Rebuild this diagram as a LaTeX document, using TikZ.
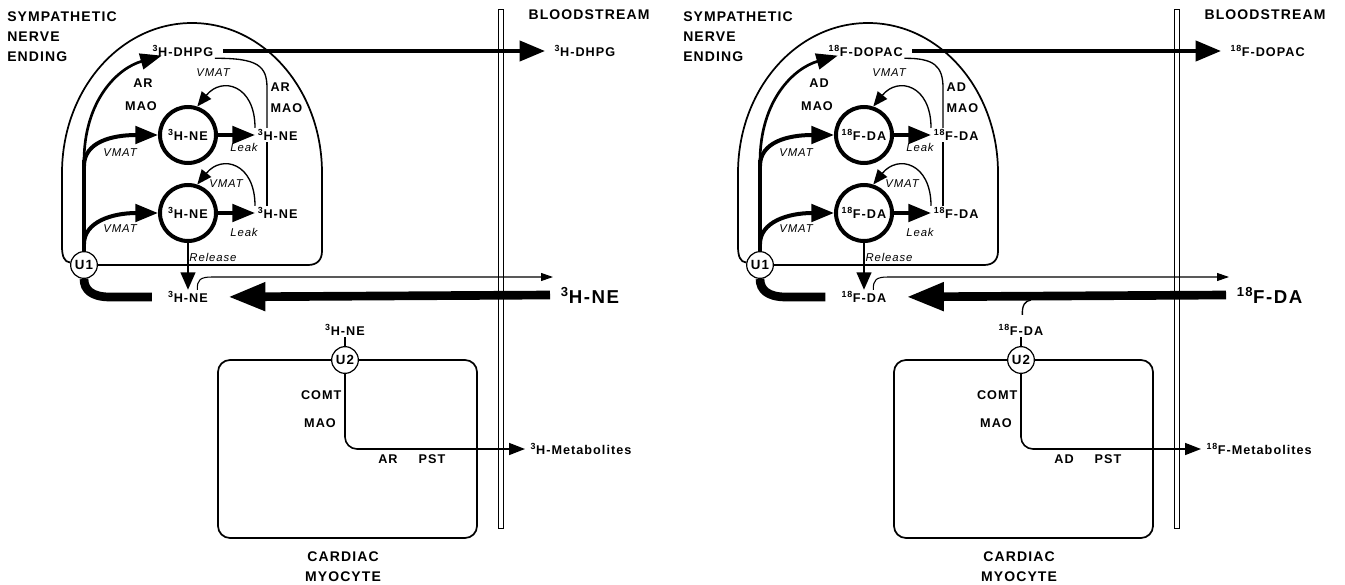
\documentclass[tikz,border=0pt]{standalone}
\usepackage{fontspec}
\setmainfont{Liberation Sans}[LetterSpace=8]
\usetikzlibrary{arrows.meta}

\begin{document}
\begin{tikzpicture}[x=0.75pt, y=-0.75pt,
    title/.style={font=\fontsize{10.5}{15}\selectfont\bfseries, align=center, inner sep=0pt},
    lbl/.style={font=\fontsize{9.5}{11}\selectfont\bfseries, inner sep=1pt},
    biglbl/.style={font=\fontsize{14}{16}\selectfont\bfseries, inner sep=0pt},
    tag/.style={font=\fontsize{8.5}{10}\selectfont\itshape, inner sep=1pt},
    vesicle/.style={circle, draw, line width=3pt, minimum size=42pt, inner sep=0pt,
        font=\fontsize{9.5}{11}\selectfont\bfseries},
    carrier/.style={circle, draw, fill=white, line width=0.9pt, minimum size=20pt,
        inner sep=0pt, font=\fontsize{10}{11}\selectfont\bfseries},
    wall/.style={line width=1.3pt},
    membrane/.style={line width=0.7pt},
    route/.style={line width=1pt},
    uptake/.style={line width=6.5pt, -{Triangle[length=28pt, width=20pt]}},
    efflux/.style={line width=3pt, -{Triangle[length=19pt, width=15pt]}},
    pump/.style={line width=3pt, -{Triangle[length=17pt, width=13pt]}},
    deam/.style={line width=2pt, -{Triangle[length=16pt, width=12pt]}},
    release/.style={line width=1.5pt, -{Triangle[length=13pt, width=11pt]}},
    recycle/.style={line width=1pt, -{Triangle[length=11pt, width=9pt]}},
    outflow/.style={line width=1.2pt, -{Triangle[length=12pt, width=9pt]}},
    spill/.style={line width=0.8pt, -{Triangle[length=9pt, width=6pt]}}
]
    \useasboundingbox (0,0) rectangle (1345,585);

    % Two panels: tritiated NE on the left, fluorinated DA on the right
    \foreach \shiftx/\side/\massno/\atom/\amine/\acid/\enzyme in
        {0/L/3/H/NE/DHPG/AR, 676/R/18/F/DA/DOPAC/AD}{
    \begin{scope}[shift={(\shiftx,0)}, name prefix=\side-]
        % membrane and compartment names
        \draw[membrane] (498,9) rectangle (503,528);
        \node[title, anchor=west, align=left] (nerve) at (7,37) {SYMPATHETIC\\NERVE\\ENDING};
        \node[title] (blood) at (589,15) {BLOODSTREAM};
        \node[title] (myo) at (343,567) {CARDIAC\\MYOCYTE};

        % carrier U1, vesicles and tracer labels
        \node[carrier] (u1) at (84,265) {U1};
        \node[vesicle] (v1) at (188,135) {\textsuperscript{\massno}\atom-\amine};
        \node[vesicle] (v2) at (188,213) {\textsuperscript{\massno}\atom-\amine};
        \node[lbl, anchor=west] (acid) at (151,51) {\textsuperscript{\massno}\atom-\acid};
        \node[lbl, anchor=west, inner xsep=2pt] (am1) at (255,135) {\textsuperscript{\massno}\atom-\amine};
        \node[lbl, anchor=west, inner xsep=2pt] (am2) at (255,213) {\textsuperscript{\massno}\atom-\amine};
        \node[lbl] (amout) at (188,297) {\textsuperscript{\massno}\atom-\amine};
        \node[lbl] (amu2) at (345,330) {\textsuperscript{\massno}\atom-\amine};
        \node[lbl, anchor=west, inner xsep=7pt] (acidb) at (545,51) {\textsuperscript{\massno}\atom-\acid};
        \node[biglbl, anchor=west, inner xsep=8pt] (amb) at (550,295) {\textsuperscript{\massno}\atom-\amine};
        \node[lbl, anchor=west, inner xsep=4pt] (met) at (525,449) {\textsuperscript{\massno}\atom-Metabolites};

        % nerve ending outline
        \draw[wall] (u1.170) .. controls (64,262) and (62,256) .. (62,246) -- (62,173)
            .. controls (62,90) and (120,23) .. (192,23)
            .. controls (264,23) and (322,90) .. (322,173) -- (322,251)
            .. controls (322,260) and (317,265) .. (308,265) -- (u1.east);

        % myocyte with carrier U2
        \draw[wall, rounded corners=9pt] (218,360) rectangle (477,538);
        \node[carrier] (u2) at (345,360) {U2};

        % neuronal uptake and vesicular transport
        \draw[line width=3.4pt] (u1.north) -- (84,160);
        \draw[pump] (84,244) .. controls (84,222) and (112,213) .. (v2.west);
        \draw[pump] (84,166) .. controls (84,142) and (112,135) .. (v1.west);
        \draw[deam] (84,162) .. controls (84,100) and (118,68) .. ([xshift=8pt, yshift=2pt]acid.south west);
        \draw[pump] (v1.east) -- (am1.west);
        \draw[pump] (v2.east) -- (am2.west);
        \draw[recycle] (am1.north west) .. controls (255,85) and (222,76) .. (v1.72);
        \draw[recycle] (am2.north west) .. controls (255,163) and (222,154) .. (v2.72);
        \draw[route] ([xshift=9pt]am2.north west) -- ([xshift=9pt]am1.south west);
        \draw[route] ([xshift=9pt]am1.north west) -- (267,88)
            .. controls (267,66) and (258,58) .. (acid.south east);
        \draw[efflux, shorten <=6pt] (acid.east) -- (acidb.west);

        % release, spillover and reuptake
        \draw[release] (v2.south) -- (amout.north);
        \coordinate (spilltip) at (553,277);
        \draw[spill] ([xshift=7pt]amout.north) .. controls (197,280) and (200,277) .. (212,277) -- (spilltip);
        \draw[uptake, shorten >=14pt] (amb.west) -- (amout.east);
        \draw[line width=6.5pt] (u1.south) .. controls (84,290) and (92,297) .. (110,297)
            -- ([xshift=-11pt]amout.west);

        % extraneuronal route
        \draw[route] (amu2.south) -- (u2.north);
        \draw[outflow, rounded corners=9pt] (u2.south) |- (met.west);

        % enzyme and transport names
        \node[lbl] (enz1) at (143,83) {\enzyme};
        \node[lbl] (mao1) at (141,106) {MAO};
        \node[lbl, anchor=west] (enz2) at (269,87) {\enzyme};
        \node[lbl, anchor=west] (mao2) at (269,108) {MAO};
        \node[tag] (vmat1) at (120,153) {VMAT};
        \node[tag] (vmat2) at (120,229) {VMAT};
        \node[tag] (vmat3) at (213,73) {VMAT};
        \node[tag] (vmat4) at (226,184) {VMAT};
        \node[tag] (leak1) at (244,147) {Leak};
        \node[tag] (leak2) at (244,232) {Leak};
        \node[tag] (rel) at (213,257) {Release};
        \node[lbl, anchor=east] (comt) at (343,395) {COMT};
        \node[lbl] (mao3) at (320,423) {MAO};
        \node[lbl] (enz3) at (388,459) {\enzyme};
        \node[lbl] (pst) at (432,459) {PST};
    \end{scope}
    }

    % uptake hook towards U2, right panel only
    \coordinate (hook) at (1031,300);
    \draw[route] ([xshift=1pt, yshift=6pt]R-amu2.north) .. controls (1022,305) and (1025,301) .. (hook);
\end{tikzpicture}
\end{document}
